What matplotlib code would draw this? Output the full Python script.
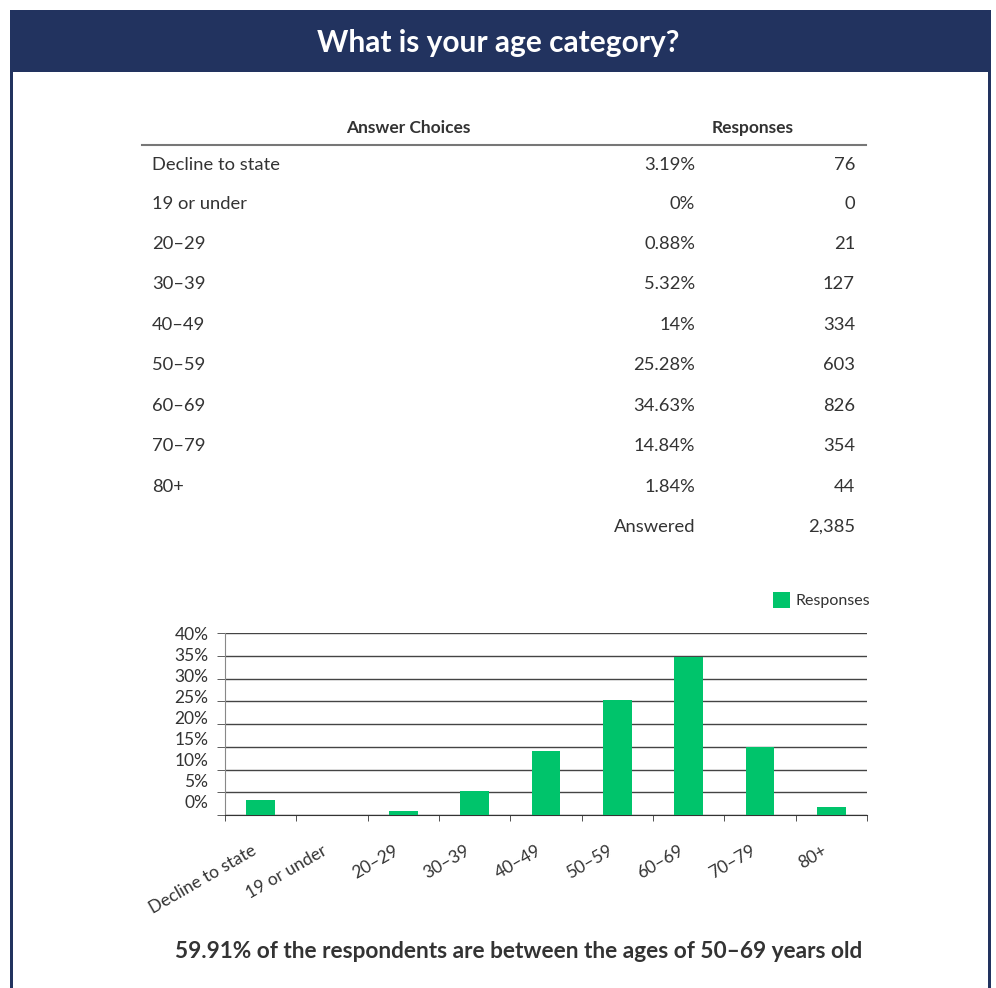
import matplotlib
matplotlib.use("Agg")
import matplotlib.pyplot as plt
import matplotlib.transforms as mtransforms
from matplotlib.patches import Rectangle

plt.rcParams['font.family'] = ['Lato', 'DejaVu Sans']

# data
choices = ["Decline to state", "19 or under", "20–29", "30–39", "40–49",
           "50–59", "60–69", "70–79", "80+"]
percents = [3.19, 0, 0.88, 5.32, 14, 25.28, 34.63, 14.84, 1.84]
pct_text = ["3.19%", "0%", "0.88%", "5.32%", "14%", "25.28%", "34.63%", "14.84%", "1.84%"]
counts = ["76", "0", "21", "127", "334", "603", "826", "354", "44"]
answered = "2,385"
y_ticks = [0, 5, 10, 15, 20, 25, 30, 35, 40]

W, H = 996, 988
navy = "#22335f"
green = "#00c46b"
text_col = "#333333"

fig = plt.figure(figsize=(W / 100, H / 100), dpi=100)

def fx(x):
    return x / W

def fy(y):
    return 1 - y / H

# frame
fig.patches.append(Rectangle((fx(10), fy(72)), fx(981), 62 / H, transform=fig.transFigure,
                             facecolor=navy, edgecolor="none"))
fig.patches.append(Rectangle((fx(10), 0), fx(3), fy(72), transform=fig.transFigure,
                             facecolor=navy, edgecolor="none"))
fig.patches.append(Rectangle((fx(988), 0), fx(3), fy(72), transform=fig.transFigure,
                             facecolor=navy, edgecolor="none"))
fig.text(0.5, fy(43), "What is your age category?", color="white", fontsize=21.5,
         fontweight="bold", ha="center", va="center")

# table
fig.text(fx(408), fy(128), "Answer Choices", fontsize=12.5, fontweight="bold",
         color=text_col, ha="center", va="center")
fig.text(fx(753), fy(128), "Responses", fontsize=12.5, fontweight="bold",
         color=text_col, ha="center", va="center")
fig.add_artist(plt.Line2D([fx(142), fx(866)], [fy(145), fy(145)], color="#777777", lw=1.5))
row_y = [165, 204, 244, 284, 325, 365, 406, 446, 487]
for yy, c, p, n in zip(row_y, choices, pct_text, counts):
    fig.text(fx(152), fy(yy), c, fontsize=13.2, color=text_col, ha="left", va="center")
    fig.text(fx(695), fy(yy), p, fontsize=13.2, color=text_col, ha="right", va="center")
    fig.text(fx(855), fy(yy), n, fontsize=13.2, color=text_col, ha="right", va="center")
fig.text(fx(695), fy(527), "Answered", fontsize=13.2, color=text_col, ha="right", va="center")
fig.text(fx(855), fy(527), answered, fontsize=13.2, color=text_col, ha="right", va="center")

# bar chart
ax = fig.add_axes([fx(225), fy(815), fx(867) - fx(225), (815 - 633) / H])
x = list(range(len(choices)))
ax.bar(x, percents, width=0.4, color=green, zorder=3)
ax.set_xlim(-0.5, len(choices) - 0.5)
ax.set_ylim(0, 40)
for s in ["top", "right"]:
    ax.spines[s].set_visible(False)
ax.spines["left"].set_color("#888888")
ax.spines["bottom"].set_color("#333333")

# gridlines + small outward marks at every 5%
ax.set_yticks(y_ticks, minor=True)
ax.yaxis.grid(True, which="minor", color="#444444", lw=1.0, zorder=1)
ax.tick_params(axis="y", which="minor", length=6, color="#444444")
# labels sit a little off the gridlines, as in the original
lab_pos = [2.9 + v * (39.8 - 2.9) / 40 for v in y_ticks]
ax.set_yticks(lab_pos)
ax.set_yticklabels([f"{v}%" for v in y_ticks], fontsize=12.5, color=text_col)
ax.tick_params(axis="y", which="major", length=0, pad=12)

ax.set_xticks([i - 0.5 for i in range(len(choices) + 1)], minor=True)
ax.tick_params(axis="x", which="minor", length=4, color="#333333")
ax.set_xticks(x)
ax.set_xticklabels(choices, rotation=30, ha="right", rotation_mode="anchor",
                   fontsize=12.5, color=text_col)
ax.tick_params(axis="x", which="major", length=0, pad=20)
off = mtransforms.ScaledTranslation(-10 / 100, 0, fig.dpi_scale_trans)
for lab in ax.get_xticklabels():
    lab.set_transform(lab.get_transform() + off)

# legend
fig.patches.append(Rectangle((fx(773), fy(608)), fx(17), 16 / H, transform=fig.transFigure,
                             facecolor=green, edgecolor="none"))
fig.text(fx(795), fy(601), "Responses", fontsize=11.5, color=text_col, ha="left", va="center")

fig.text(fx(519), fy(951), "59.91% of the respondents are between the ages of 50–69 years old",
         fontsize=16.3, fontweight="bold", color=text_col, ha="center", va="center")

fig.savefig("out.png", dpi=100)
